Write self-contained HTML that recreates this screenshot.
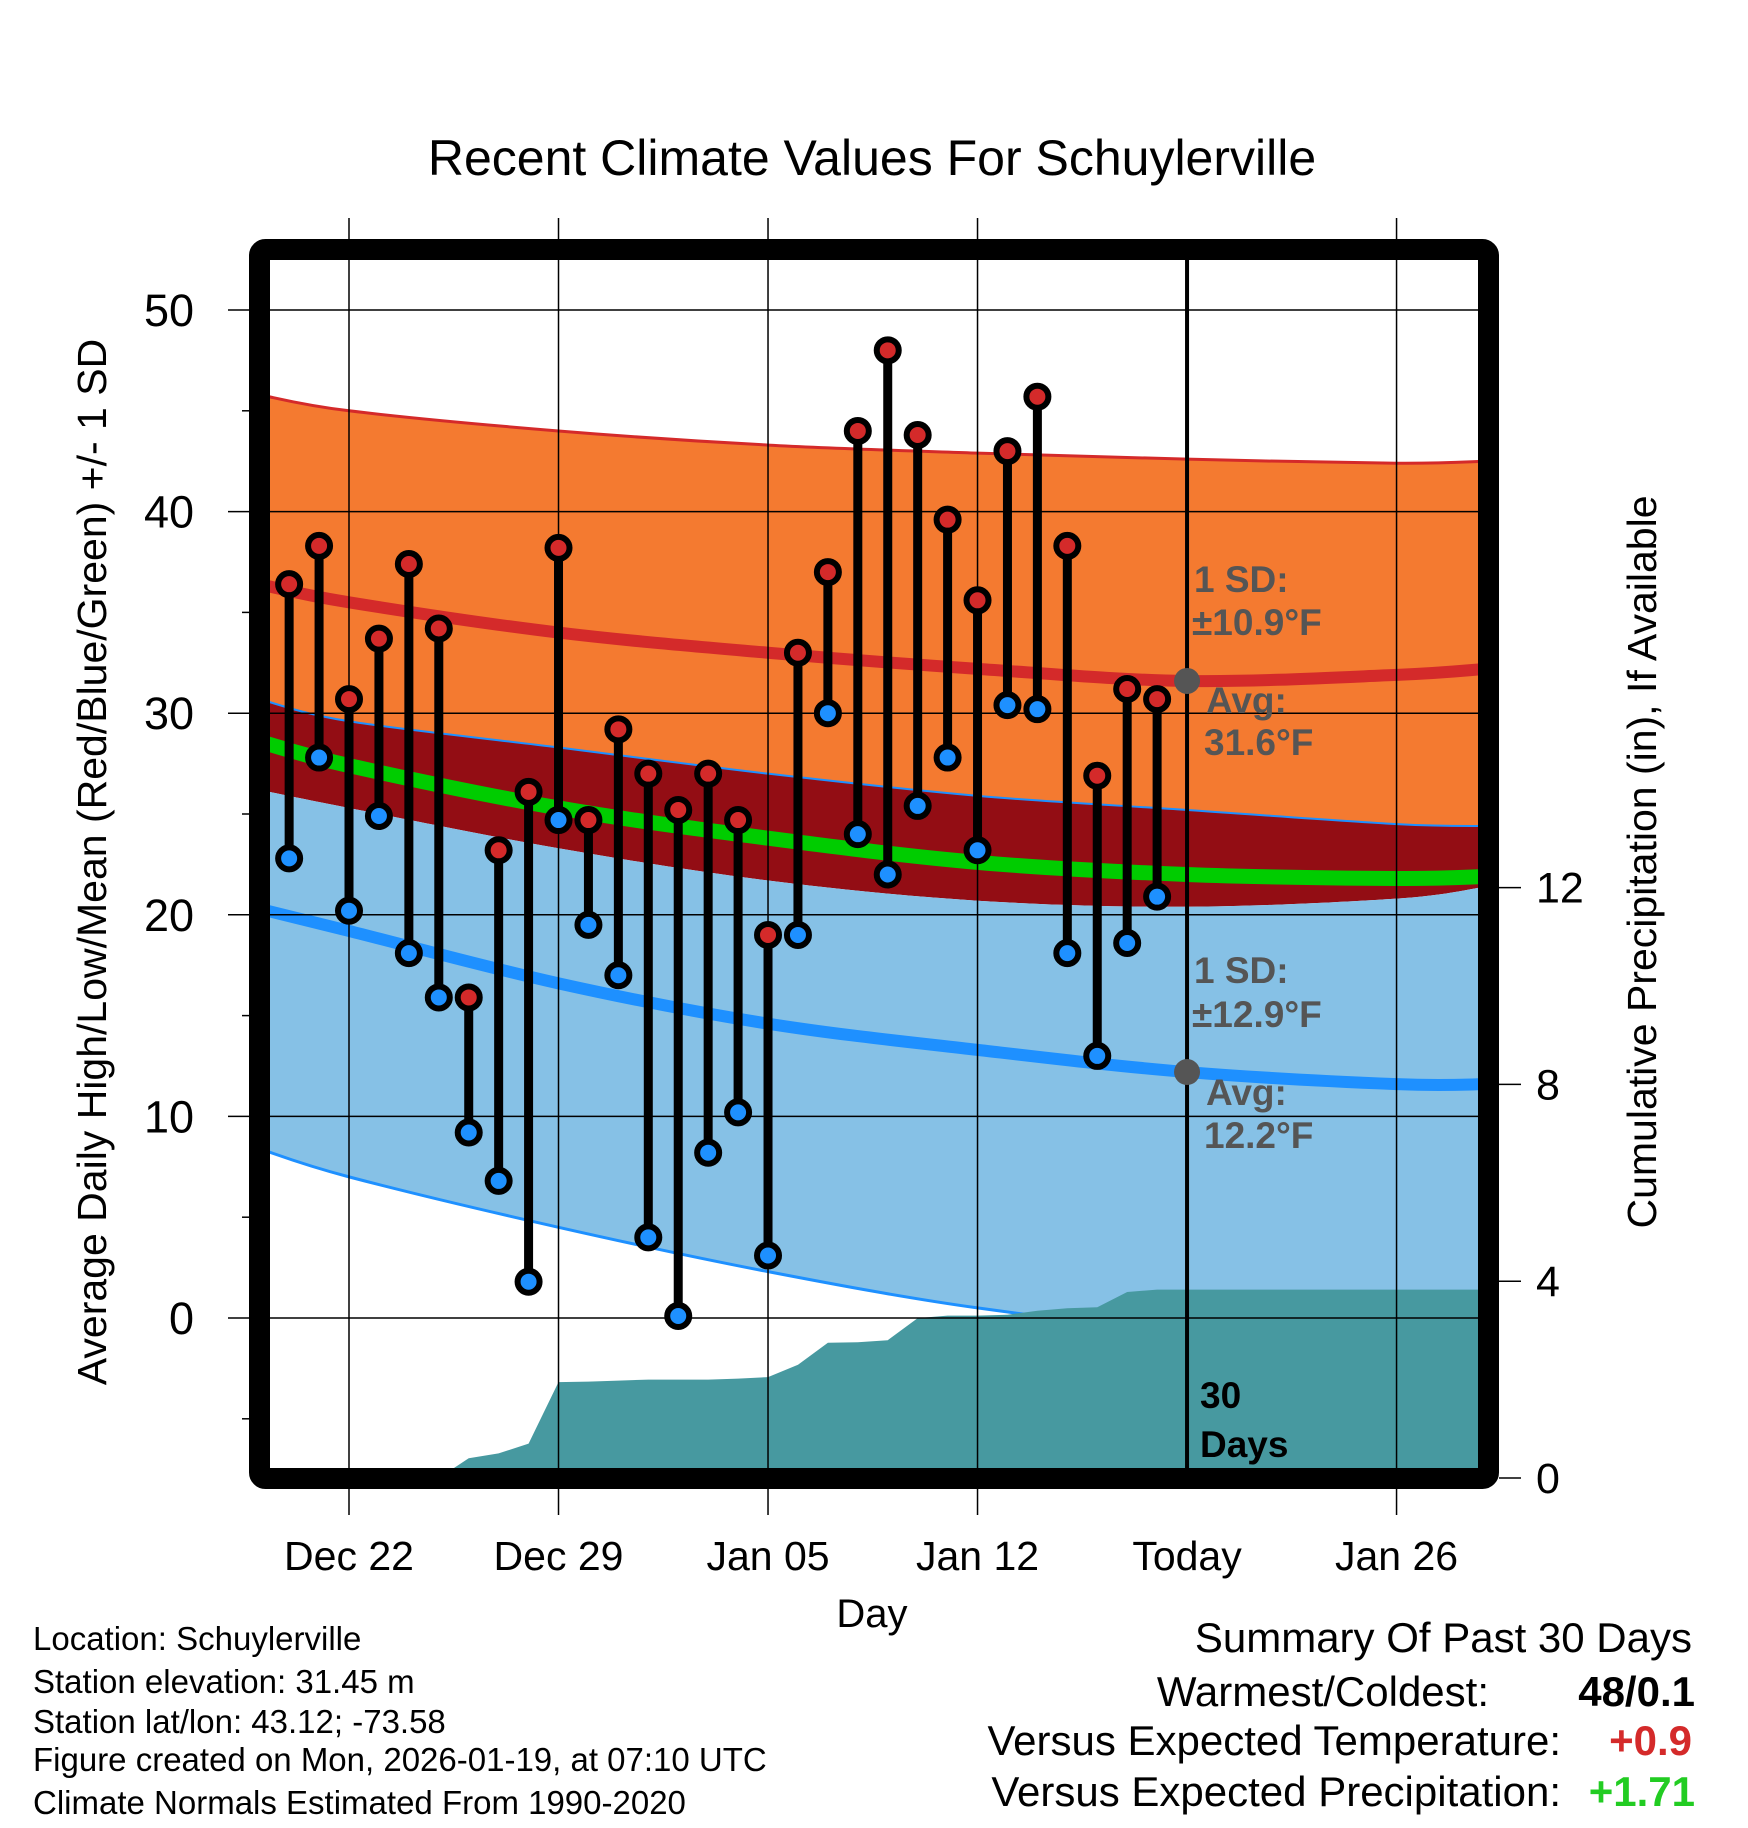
<!DOCTYPE html>
<html><head><meta charset="utf-8">
<style>
html,body{margin:0;padding:0;background:#fff;}
svg{display:block;font-family:"Liberation Sans",Arial,sans-serif;}
</style></head>
<body>
<svg id="chart" width="1748" height="1828" viewBox="0 0 1748 1828" xmlns="http://www.w3.org/2000/svg">
<defs><clipPath id="plotclip"><rect x="270" y="260" width="1208" height="1208"/></clipPath></defs>
<text x="872" y="175" font-size="50" text-anchor="middle">Recent Climate Values For Schuylerville</text>
<g id="fills" clip-path="url(#plotclip)"></g>
<g id="grid"></g>
<g id="marks"></g>
<g id="labels"></g>
<rect x="259.5" y="249.5" width="1229" height="1229" rx="6" fill="none" stroke="#000" stroke-width="21"/>
<text transform="translate(106,862) rotate(-90)" font-size="41" text-anchor="middle">Average Daily High/Low/Mean (Red/Blue/Green) +/- 1 SD</text>
<text transform="translate(1656,862) rotate(-90)" font-size="41" text-anchor="middle">Cumulative Precipitation (in), If Available</text>
<text x="872" y="1627" font-size="40" text-anchor="middle">Day</text>
<g font-size="33">
<text x="33" y="1650">Location: Schuylerville</text>
<text x="33" y="1693">Station elevation: 31.45 m</text>
<text x="33" y="1733">Station lat/lon: 43.12; -73.58</text>
<text x="33" y="1771">Figure created on Mon, 2026-01-19, at 07:10 UTC</text>
<text x="33" y="1814">Climate Normals Estimated From 1990-2020</text>
</g>
<g font-size="42" text-anchor="end">
<text x="1692" y="1652">Summary Of Past 30 Days</text>
<text x="1489" y="1706">Warmest/Coldest:</text>
<text x="1695" y="1706" font-weight="bold">48/0.1</text>
<text x="1561" y="1755">Versus Expected Temperature:</text>
<text x="1692" y="1755" font-weight="bold" fill="#d42a2a">+0.9</text>
<text x="1561" y="1806">Versus Expected Precipitation:</text>
<text x="1695" y="1806" font-weight="bold" fill="#22cc22">+1.71</text>
</g>
</svg>
<script>
// ---- data ----
const dayLabels = ["Dec 20","Dec 21","Dec 22","Dec 23","Dec 24","Dec 25","Dec 26","Dec 27","Dec 28","Dec 29","Dec 30","Dec 31","Jan 01","Jan 02","Jan 03","Jan 04","Jan 05","Jan 06","Jan 07","Jan 08","Jan 09","Jan 10","Jan 11","Jan 12","Jan 13","Jan 14","Jan 15","Jan 16","Jan 17","Jan 18"];
const dayIndex = [-2,-1,0,1,2,3,4,5,6,7,8,9,10,11,12,13,14,15,16,17,18,19,20,21,22,23,24,25,26,27];
const highs = [36.4,38.3,30.7,33.7,37.4,34.2,15.9,23.2,26.1,38.2,24.7,29.2,27.0,25.2,27.0,24.7,19.0,33.0,37.0,44.0,48.0,43.8,39.6,35.6,43.0,45.7,38.3,26.9,31.2,30.7];
const lows = [22.8,27.8,20.2,24.9,18.1,15.9,9.2,6.8,1.8,24.7,19.5,17.0,4.0,0.1,8.2,10.2,3.1,19.0,30.0,24.0,22.0,25.4,27.8,23.2,30.4,30.2,18.1,13.0,18.6,20.9];
const normDays = [-3,0,7,14,21,28,35,38];
const highNorm = [36.4,35.5,34.0,33.0,32.2,31.6,31.9,32.2];
const highPlus = [45.8,45.0,44.0,43.3,42.9,42.6,42.4,42.5];
const highMinus = [30.7,29.6,28.3,27.0,25.9,25.2,24.5,24.4];
const meanNorm = [28.6,27.4,25.3,23.8,22.6,22.0,21.8,21.9];
const lowNorm = [20.3,19.2,16.6,14.6,13.3,12.2,11.6,11.6];
const lowPlus = [26.2,25.3,23.3,21.7,20.7,20.4,20.8,21.4];
const lowMinus = [8.4,7.0,4.5,2.3,0.5,-0.6,-0.8,-0.8];
const precipDays = [3,4,5,6,7,8,9,10,11,12,13,14,15,16,17,18,19,20,21,22,23,24,25,26,27,28,38];
const precipCum = [0,0.4,0.5,0.7,1.95,1.96,1.98,2.0,2.0,2.0,2.02,2.05,2.3,2.75,2.76,2.8,3.25,3.3,3.3,3.32,3.4,3.45,3.47,3.78,3.83,3.83,3.83];
const yTicks = [0,10,20,30,40,50];
const yMinor = [-5,5,15,25,35,45];
const y2Ticks = [0,4,8,12];
const xTickDays = [0,7,14,21,28,35];
const xTickLabels = ["Dec 22","Dec 29","Jan 05","Jan 12","Today","Jan 26"];
const todayDay = 28;
const todayHigh = 31.6, todayLow = 12.2;

// ---- scales ----
const X = d => 349 + d * 29.93;
const Y = v => 1318 - v * 20.16;
const P = p => 1478 - p * 49.2;
const NS = "http://www.w3.org/2000/svg";
function mk(tag, attrs, parent){const e=document.createElementNS(NS,tag);for(const k in attrs)e.setAttribute(k,attrs[k]);parent.appendChild(e);return e;}
const fills=document.getElementById('fills'), grid=document.getElementById('grid'), marks=document.getElementById('marks'), labels=document.getElementById('labels');

function cr(p){let s="";
  for(let i=0;i<p.length-1;i++){const p0=p[Math.max(0,i-1)],p1=p[i],p2=p[i+1],p3=p[Math.min(p.length-1,i+2)];
    s+=" C"+(p1[0]+(p2[0]-p0[0])/6)+","+(p1[1]+(p2[1]-p0[1])/6)+" "+(p2[0]-(p3[0]-p1[0])/6)+","+(p2[1]-(p3[1]-p1[1])/6)+" "+p2[0]+","+p2[1];}
  return s;}
function smooth(arr){const p=normDays.map((d,i)=>[X(d),Y(arr[i])]);return "M"+p[0][0]+","+p[0][1]+cr(p);}
function sband(top,bot){
  const rb=[...bot].reverse();const p=[...normDays].reverse().map((d,i)=>[X(d),Y(rb[i])]);
  return smooth(top)+" L"+p[0][0]+","+p[0][1]+cr(p)+" Z";}

let e;
e=mk('path',{d:sband(highPlus,highMinus),fill:'#f47a30'},fills);


e=mk('path',{d:sband(highMinus,lowPlus),fill:'#930d14'},fills);


e=mk('path',{d:sband(lowPlus,lowMinus),fill:'#86c1e6'},fills);


e=mk('path',{d:smooth(highPlus),fill:'none',stroke:'#d42a2a',"stroke-width":3},fills);


e=mk('path',{d:smooth(highMinus),fill:'none',stroke:'#1e90ff',"stroke-width":2},fills);


e=mk('path',{d:smooth(lowMinus),fill:'none',stroke:'#1e90ff',"stroke-width":3},fills);


// precip area (drawn over the low -SD line)
let pd="M"+X(precipDays[0])+","+P(0);
precipDays.forEach((d,i)=>{pd+=" L"+X(d).toFixed(1)+","+P(precipCum[i]).toFixed(1);});
pd+=" L"+X(precipDays[precipDays.length-1])+","+P(0)+" Z";
e=mk('path',{d:pd,fill:'#4799a0'},fills);


e=mk('path',{d:smooth(meanNorm),fill:'none',stroke:'#00cc00',"stroke-width":15},fills);


e=mk('path',{d:smooth(highNorm),fill:'none',stroke:'#d42a2a',"stroke-width":12},fills);


e=mk('path',{d:smooth(lowNorm),fill:'none',stroke:'#1e90ff',"stroke-width":12},fills);



// grid & ticks
yTicks.forEach(v=>{
  e=mk('line',{x1:228,x2:1478,y1:Y(v),y2:Y(v),stroke:'#000',"stroke-width":1.5},grid);
  
  
  e=mk('text',{x:194,y:Y(v)+16,"font-size":45,"text-anchor":"end"},labels);
  e.textContent=v;
  
  
});
yMinor.forEach(v=>{
  e=mk('line',{x1:242,x2:252,y1:Y(v),y2:Y(v),stroke:'#000',"stroke-width":1.5},grid);
  
  
});
y2Ticks.forEach(v=>{
  e=mk('line',{x1:1499,x2:1521,y1:P(v),y2:P(v),stroke:'#000',"stroke-width":1.5},grid);
  
  
  e=mk('text',{x:1536,y:P(v)+15,"font-size":43,"text-anchor":"start"},labels);
  e.textContent=v;
  
  
});
xTickDays.forEach((d,i)=>{
  if(d!==todayDay){
    e=mk('line',{x1:X(d),x2:X(d),y1:218,y2:1515,stroke:'#000',"stroke-width":1.5},grid);
    
    
  } else {
    e=mk('line',{x1:X(d),x2:X(d),y1:260,y2:1468,stroke:'#000',"stroke-width":4},grid);
    
    
  }
  e=mk('text',{x:X(d),y:1570,"font-size":41,"text-anchor":"middle"},labels);
  e.textContent=xTickLabels[i];
  
  
});

// bars & points
dayIndex.forEach((d,i)=>{
  e=mk('line',{x1:X(d),x2:X(d),y1:Y(highs[i]),y2:Y(lows[i]),stroke:'#000',"stroke-width":9},marks);
  
  
});
dayIndex.forEach((d,i)=>{
  e=mk('circle',{cx:X(d),cy:Y(highs[i]),r:11,fill:'#d42a2a',stroke:'#000',"stroke-width":6},marks);
  
  
  e=mk('circle',{cx:X(d),cy:Y(lows[i]),r:11,fill:'#1e90ff',stroke:'#000',"stroke-width":6},marks);
  
  
});
e=mk('circle',{cx:X(todayDay),cy:Y(todayHigh),r:13,fill:'#555'},marks);


e=mk('circle',{cx:X(todayDay),cy:Y(todayLow),r:13,fill:'#555'},marks);



// annotations
const ann=[["1 SD:",1194,592],["\u00b110.9\u00b0F",1192,635],["Avg:",1206,713],["31.6\u00b0F",1204,755],["1 SD:",1194,983],["\u00b112.9\u00b0F",1192,1027],["Avg:",1206,1105],["12.2\u00b0F",1204,1148]];
ann.forEach(a=>{
  e=mk('text',{x:a[1],y:a[2],"font-size":37,"font-weight":"bold",fill:'#555'},labels);
  e.textContent=a[0];
  
  
});
e=mk('text',{x:1200,y:1408,"font-size":37,"font-weight":"bold"},labels);
e.textContent="30";


e=mk('text',{x:1200,y:1457,"font-size":37,"font-weight":"bold"},labels);
e.textContent="Days";


</script>
</body></html>
